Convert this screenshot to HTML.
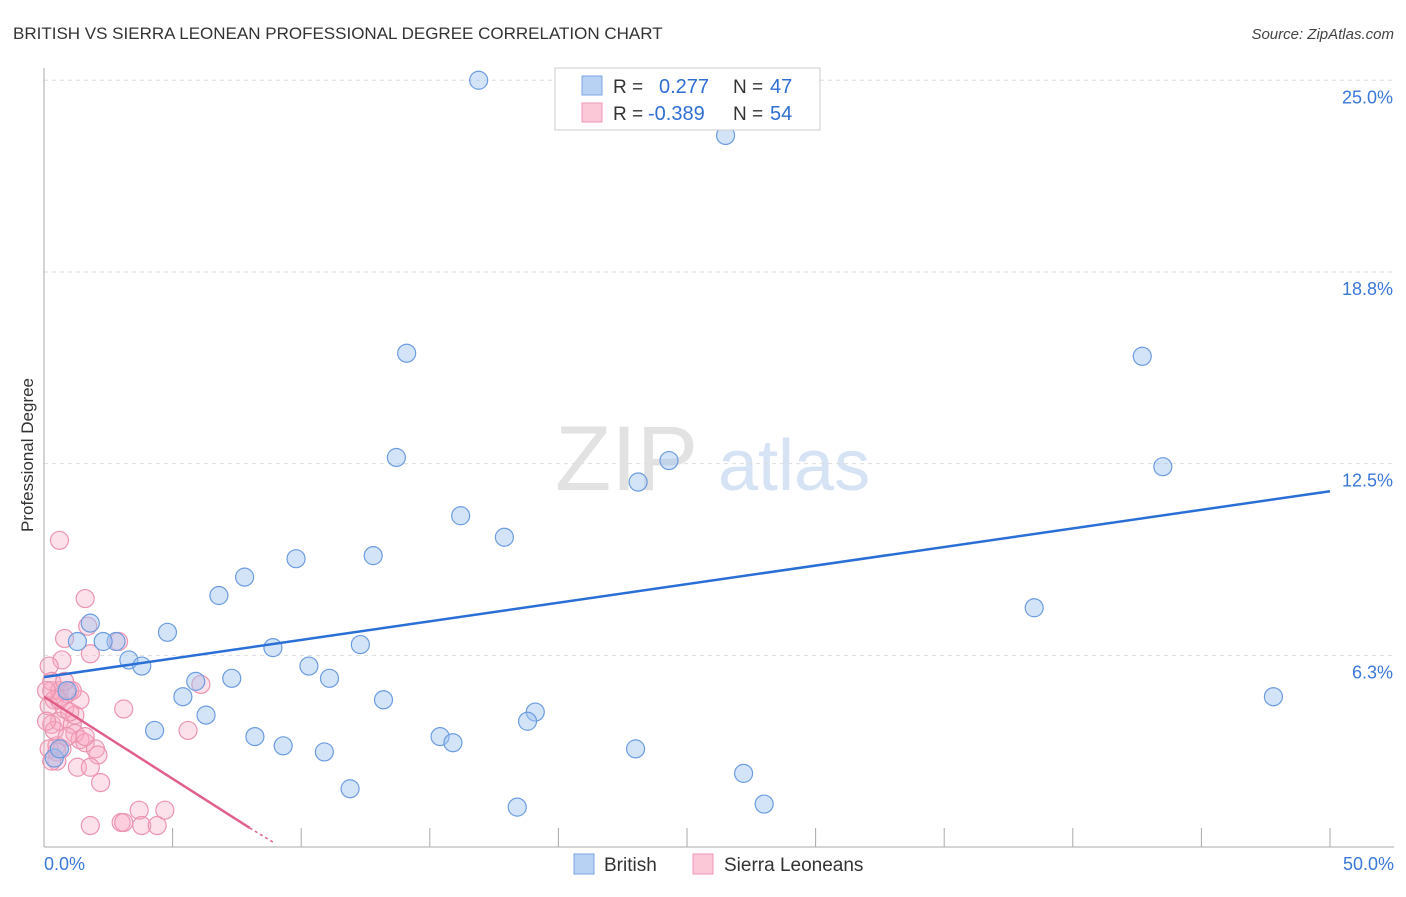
<!DOCTYPE html>
<html><head><meta charset="utf-8"><style>
body{margin:0;background:#fff;font-family:"Liberation Sans",sans-serif;}
svg text{font-family:"Liberation Sans",sans-serif;}
</style></head><body>
<svg id="chart" width="1406" height="892" xmlns="http://www.w3.org/2000/svg">
<text x="13" y="39" font-size="17" fill="#333">BRITISH VS SIERRA LEONEAN PROFESSIONAL DEGREE CORRELATION CHART</text>
<text x="1394" y="39" font-size="15" fill="#444" text-anchor="end" font-style="italic">Source: ZipAtlas.com</text>
<g>
<text x="555" y="490" font-size="92" fill="#e2e2e2" font-family="Liberation Serif, serif">ZIP</text>
<text x="718" y="490" font-size="72" fill="#d5e3f5">atlas</text>
</g>
<g id="grid"></g>
<g id="axes"></g>
<g id="pts"></g>
<g id="lines"></g>
<text transform="translate(33,455) rotate(-90)" font-size="17" fill="#333" text-anchor="middle">Professional Degree</text>
<g>
<rect x="555" y="68" width="265" height="62" fill="#fff" stroke="#ccc"/>
<rect x="582" y="76" width="20" height="19" fill="#b8d2f4" stroke="#7aa6e0"/>
<rect x="582" y="103" width="20" height="19" fill="#fac8d6" stroke="#ee9ab4"/>
<text x="613" y="93" font-size="19" fill="#333">R =</text>
<text x="659" y="93" font-size="20" fill="#2f6fd3">0.277</text>
<text x="733" y="93" font-size="19" fill="#333">N =</text>
<text x="770" y="93" font-size="20" fill="#2f6fd3">47</text>
<text x="613" y="120" font-size="19" fill="#333">R =</text>
<text x="648" y="120" font-size="20" fill="#2f6fd3">-0.389</text>
<text x="733" y="120" font-size="19" fill="#333">N =</text>
<text x="770" y="120" font-size="20" fill="#2f6fd3">54</text>
</g>
<g>
<rect x="574" y="854" width="20" height="20" fill="#b8d2f4" stroke="#7aa6e0"/>
<text x="604" y="871" font-size="19" fill="#333">British</text>
</g>
<g>
<rect x="693" y="854" width="20" height="20" fill="#fac8d6" stroke="#ee9ab4"/>
<text x="724" y="871" font-size="19" fill="#333">Sierra Leoneans</text>
</g>
</svg>
<script>
const yTicks=[6.25,12.5,18.75,25];
const yTickLabels=["6.3%","12.5%","18.8%","25.0%"];
const xTicks=[5,10,15,20,25,30,35,40,45,50];
const britishX=[16.9,26.5,14.1,42.7,13.7,24.3,23.1,43.5,16.2,17.9,9.8,12.8,7.8,6.8,38.5,4.8,1.8,2.8,1.3,2.3,8.9,12.3,3.3,3.8,10.3,5.9,7.3,5.4,11.1,13.2,47.8,0.9,6.3,19.1,18.8,4.3,8.2,15.4,15.9,9.3,10.9,23.0,27.2,11.9,18.4,28.0,0.4,0.6];
const britishY=[25.0,23.2,16.1,16.0,12.7,12.6,11.9,12.4,10.8,10.1,9.4,9.5,8.8,8.2,7.8,7.0,7.3,6.7,6.7,6.7,6.5,6.6,6.1,5.9,5.9,5.4,5.5,4.9,5.5,4.8,4.9,5.1,4.3,4.4,4.1,3.8,3.6,3.6,3.4,3.3,3.1,3.2,2.4,1.9,1.3,1.4,2.9,3.2];
const sierraX=[0.6,1.6,0.8,2.9,1.7,0.7,1.8,0.2,0.3,0.6,1.0,1.4,0.4,0.9,3.1,6.1,5.6,0.3,0.6,1.1,1.2,1.4,0.5,0.7,1.6,2.0,2.1,0.5,1.3,1.8,2.2,1.8,3.0,3.1,3.7,3.8,4.4,4.7,0.3,0.2,0.8,1.2,0.4,0.9,0.2,0.5,0.6,1.1,0.1,0.3,1.0,1.6,0.8,0.1];
const sierraY=[10.0,8.1,6.8,6.7,7.2,6.1,6.3,5.9,5.1,5.1,5.1,4.8,4.8,5.0,4.5,5.3,3.8,4.0,4.1,4.0,3.7,3.5,3.3,3.2,3.4,3.2,3.0,2.8,2.6,2.6,2.1,0.7,0.8,0.8,1.2,0.7,0.7,1.2,5.4,4.6,4.5,4.3,3.8,3.6,3.2,3.1,4.8,5.1,5.1,2.8,4.4,3.6,5.4,4.1];
const britishTrend=[[0,5.54],[50,11.6]];
const sierraTrend=[[0,4.9],[8.0,0.62]];
const sierraTrendExt=[[8.0,0.62],[8.9,0.16]];
const NS="http://www.w3.org/2000/svg";
const X0=44,X1=1330,Y0=847,PX=30.67;
const sx=v=>X0+(X1-X0)*v/50, sy=v=>Y0-v*PX;
function mk(tag,attrs,parent){const e=document.createElementNS(NS,tag);for(const k in attrs)e.setAttribute(k,attrs[k]);parent.appendChild(e);return e;}
const grid=document.getElementById('grid'),axes=document.getElementById('axes'),pts=document.getElementById('pts'),lines=document.getElementById('lines');
yTicks.forEach((t,i)=>{
 const l=mk('line',{x1:X0,x2:1394,y1:sy(t),y2:sy(t),stroke:'#ddd','stroke-dasharray':'4,4'},grid);
 
 
 const tx=mk('text',{x:1393,y:sy(t)+23,'font-size':18,fill:'#3a78d8','text-anchor':'end'},axes);
 tx.textContent=yTickLabels[i];
 
 
});
const ya=mk('line',{x1:X0,x2:X0,y1:68,y2:Y0,stroke:'#aaa'},axes);


const xa=mk('line',{x1:X0,x2:1394,y1:Y0,y2:Y0,stroke:'#aaa'},axes);


xTicks.forEach(t=>{
 const l=mk('line',{x1:sx(t),x2:sx(t),y1:Y0-19,y2:Y0,stroke:'#aaa'},axes);
 
 
});
const xl0=mk('text',{x:44,y:870,'font-size':18,fill:'#3a78d8'},axes);xl0.textContent='0.0%';


const xl1=mk('text',{x:1394,y:870,'font-size':18,fill:'#3a78d8','text-anchor':'end'},axes);xl1.textContent='50.0%';


sierraX.forEach((v,i)=>{
 const c=mk('circle',{cx:sx(v),cy:sy(sierraY[i]),r:9,fill:'rgba(248,170,195,0.35)',stroke:'#ec95b1','stroke-width':1.2},pts);
 
 
});
britishX.forEach((v,i)=>{
 const c=mk('circle',{cx:sx(v),cy:sy(britishY[i]),r:9,fill:'rgba(160,196,240,0.45)',stroke:'#6c9ce0','stroke-width':1.2},pts);
 
 
});
const bl=mk('line',{x1:sx(britishTrend[0][0]),y1:sy(britishTrend[0][1]),x2:sx(britishTrend[1][0]),y2:sy(britishTrend[1][1]),stroke:'#2a6fd6','stroke-width':2.5},lines);


const pl=mk('line',{x1:sx(sierraTrend[0][0]),y1:sy(sierraTrend[0][1]),x2:sx(sierraTrend[1][0]),y2:sy(sierraTrend[1][1]),stroke:'#e0608a','stroke-width':2.5},lines);


const pd=mk('line',{x1:sx(sierraTrendExt[0][0]),y1:sy(sierraTrendExt[0][1]),x2:sx(sierraTrendExt[1][0]),y2:sy(sierraTrendExt[1][1]),stroke:'#e0608a','stroke-width':1.5,'stroke-dasharray':'3,3'},lines);


</script>
</body></html>
